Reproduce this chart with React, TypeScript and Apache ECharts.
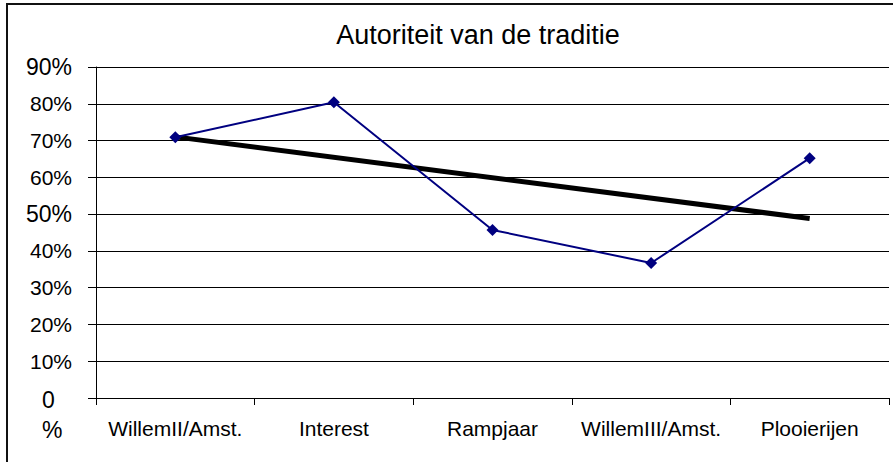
import React, { useEffect, useRef } from "react";
import * as echarts from "echarts";

const categories = ["WillemII/Amst.", "Interest", "Rampjaar", "WillemIII/Amst.", "Plooierijen"];
const values = [70.9, 80.4, 45.7, 36.7, 65.2];
const trendValues: (number | null)[] = [71.0, null, null, null, 48.8];
const yMin = 0;
const yMax = 90;
const yStep = 10;
const titleText = "Autoriteit van de traditie";

const FONT = "'Liberation Sans', Arial, Helvetica, sans-serif";

export default function App() {
  const ref = useRef<HTMLDivElement>(null);
  useEffect(() => {
    document.body.style.margin = "0";
    if (!ref.current) return;
    const chart = echarts.init(ref.current, null, { renderer: "svg" });
    chart.setOption({
      animation: false,
      backgroundColor: "#fff",
      textStyle: { fontFamily: FONT },
      title: {
        text: titleText,
        left: 478,
        top: 21,
        padding: 0,
        textAlign: "center",
        textStyle: { fontSize: 27, fontWeight: "normal", color: "#000", fontFamily: FONT },
      },
      graphic: [
        {
          type: "rect",
          shape: { x: 7, y: 4, width: 1000, height: 1000 },
          style: { fill: "none", stroke: "#111", lineWidth: 2 },
          silent: true,
          z: 100,
        },
      ],
      grid: { left: 96, right: 4, top: 67, bottom: 64, containLabel: false },
      xAxis: {
        type: "category",
        data: categories,
        boundaryGap: true,
        axisLine: { show: true, lineStyle: { color: "#000", width: 1 } },
        axisTick: { show: true, length: 7, inside: false, lineStyle: { color: "#000" } },
        axisLabel: { fontSize: 21, color: "#000", margin: 20, fontFamily: FONT, interval: 0, hideOverlap: false },
        splitLine: { show: false },
      },
      yAxis: [
        {
          type: "value",
          min: yMin,
          max: yMax,
          interval: yStep,
          axisLine: { show: true, lineStyle: { color: "#000", width: 1 } },
          axisTick: { show: true, length: 8, lineStyle: { color: "#000" } },
          splitLine: { show: true, lineStyle: { color: "#000", width: 1 } },
          axisLabel: {
            fontSize: 21,
            color: "#000",
            margin: 24,
            fontFamily: FONT,
            showMinLabel: true,
            formatter: (v: number) => {
              if (v === 0) return "";
              if (v === 90 || v === 50) return `{b|${v}%}`;
              return `${v}%`;
            },
            rich: {
              b: { fontSize: 23, color: "#000", fontFamily: FONT },
            },
          },
        },
        {
          type: "value",
          position: "left",
          offset: 0,
          min: yMin,
          max: yMax,
          interval: yStep,
          axisLine: { show: false },
          axisTick: { show: false },
          splitLine: { show: false },
          axisLabel: {
            fontSize: 21,
            color: "#000",
            margin: 24,
            fontFamily: FONT,
            showMinLabel: true,
            verticalAlign: "top",
            formatter: (v: number) => (v === 0 ? "{a|0}\n{c|%}" : ""),
            rich: {
              a: { fontSize: 23, lineHeight: 4, width: 30, align: "left", color: "#000", fontFamily: FONT },
              c: { fontSize: 23, lineHeight: 56, width: 30, align: "left", color: "#000", fontFamily: FONT },
            },
          },
        },
      ],
      series: [
        {
          type: "line",
          name: "trend",
          data: trendValues,
          yAxisIndex: 0,
          connectNulls: true,
          symbol: "none",
          lineStyle: { color: "#000", width: 5 },
          z: 2,
          silent: true,
        },
        {
          type: "line",
          name: "waarde",
          data: values,
          yAxisIndex: 0,
          symbol: "diamond",
          symbolSize: 12,
          itemStyle: { color: "#000080" },
          lineStyle: { color: "#000080", width: 2 },
          z: 3,
        },
      ],
    });
    return () => chart.dispose();
  }, []);
  return <div ref={ref} style={{ width: 893, height: 462 }} />;
}
